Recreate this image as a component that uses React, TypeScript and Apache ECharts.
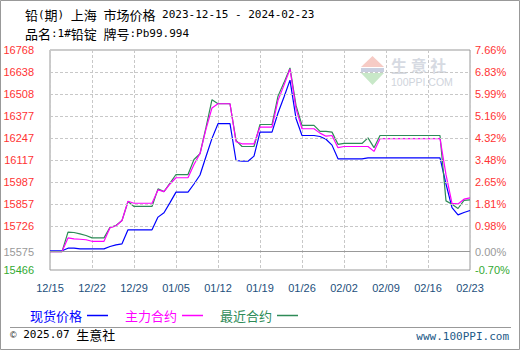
import React, { useEffect, useRef } from 'react';
import * as echarts from 'echarts';

const dates = [
  '12/15','12/16','12/17','12/18','12/19','12/20','12/21','12/22','12/23','12/24',
  '12/25','12/26','12/27','12/28','12/29','12/30','12/31','01/01','01/02','01/03',
  '01/04','01/05','01/06','01/07','01/08','01/09','01/10','01/11','01/12','01/13',
  '01/14','01/15','01/16','01/17','01/18','01/19','01/20','01/21','01/22','01/23',
  '01/24','01/25','01/26','01/27','01/28','01/29','01/30','01/31','02/01','02/02',
  '02/03','02/04','02/05','02/06','02/07','02/08','02/09','02/10','02/11','02/12',
  '02/13','02/14','02/15','02/16','02/17','02/18','02/19','02/20','02/21','02/22',
  '02/23',
];

const spotPrice = [
  15580,15580,15580,15595,15595,15591,15591,15591,15591,15591,
  15605,15615,15621,15704,15704,15704,15704,15704,15779,15805,
  15865,15927,15927,15927,15975,16028,16138,16245,16332,16332,
  16332,16114,16110,16110,16140,16282,16282,16282,16395,16490,
  16590,16363,16262,16262,16262,16256,16240,16205,16124,16124,
  16124,16124,16124,16130,16130,16130,16130,16130,16130,16130,
  16130,16130,16130,16130,16130,16130,15975,15835,15792,15806,
  15818,
];

const mainContract = [
  15575,15575,15575,15656,15650,15648,15645,15636,15636,15636,
  15716,15727,15759,15873,15861,15861,15861,15861,15940,15930,
  15975,16012,16012,16012,16090,16155,16300,16425,16450,16450,
  16450,16225,16213,16213,16213,16312,16312,16312,16470,16560,
  16655,16421,16302,16302,16302,16276,16258,16262,16190,16197,
  16197,16197,16197,16197,16168,16243,16243,16243,16243,16243,
  16243,16243,16243,16243,16243,16243,16030,15860,15857,15885,
  15893,
];

const nearestContract = [
  15575,15575,15575,15690,15688,15680,15670,15656,15656,15656,
  15718,15729,15759,15871,15842,15842,15842,15842,15946,15930,
  15980,16031,16031,16031,16120,16154,16310,16474,16450,16450,
  16450,16233,16197,16197,16197,16327,16327,16327,16495,16575,
  16662,16440,16322,16322,16322,16286,16286,16282,16210,16215,
  16215,16215,16215,16248,16190,16262,16262,16262,16262,16262,
  16262,16262,16262,16262,16262,16262,15875,15855,15830,15878,
  15881,
];

const yMin = 15466;
const yMax = 16768;
const basePrice = 15575;
const tickValues = [15466, 15575, 15726.4, 15856.6, 15986.8, 16117, 16247.2, 16377.4, 16507.6, 16637.8, 16768];
const priceLabels = ['15466','15575','15726','15857','15987','16117','16247','16377','16508','16638','16768'];
const percentLabels = ['-0.70%','0.00%','0.98%','1.81%','2.65%','3.48%','4.32%','5.16%','5.99%','6.83%','7.66%'];
const gridValues = [15726.4, 15856.6, 15986.8, 16117, 16247.2, 16377.4, 16507.6, 16637.8];

const seriesNames = ['现货价格', '主力合约', '最近合约'];
const seriesColors = ['#0000ff', '#ff00ff', '#2e8b57'];

const MONO = "'DejaVu Sans Mono', monospace";
const CJK = "'Noto Sans CJK SC', sans-serif";
const SANS = "'Liberation Sans', 'Noto Sans CJK SC', sans-serif";
const TITLE_COLOR = '#1d5a88';

function nearestIndex(v: number) {
  let best = 0;
  for (let i = 1; i < tickValues.length; i++) {
    if (Math.abs(tickValues[i] - v) < Math.abs(tickValues[best] - v)) best = i;
  }
  return best;
}

function labelColor(v: number) {
  const i = nearestIndex(v);
  if (i === 0) return '#33aa33';
  if (i === 1) return '#999999';
  return '#ff3333';
}

export default function App() {
  const ref = useRef<HTMLDivElement>(null);

  useEffect(() => {
    document.body.style.margin = '0';
    if (!ref.current) return;
    const chart = echarts.init(ref.current, null, { renderer: 'svg' });

    const richTitle = {
      c: { fontFamily: CJK, fontSize: 13, color: TITLE_COLOR },
      m: { fontFamily: MONO, fontSize: 11, color: TITLE_COLOR },
    };

    chart.setOption({
      animation: false,
      backgroundColor: '#ffffff',
      textStyle: { fontFamily: SANS },
      grid: {
        left: 50, right: 50, top: 50, bottom: 80,
        show: true, borderColor: '#999999', borderWidth: 1, backgroundColor: 'transparent',
      },
      legend: {
        left: 25, top: 304,
        align: 'right',
        icon: 'rect',
        itemWidth: 21, itemHeight: 1.5,
        itemGap: 17,
        textStyle: { fontSize: 13, fontFamily: CJK },
        data: seriesNames.map((n, i) => ({ name: n, textStyle: { color: seriesColors[i] } })),
      },
      xAxis: {
        type: 'category',
        data: dates,
        boundaryGap: false,
        axisLine: { show: false },
        axisTick: { show: false },
        axisLabel: { interval: 6, margin: 12, color: '#1d4f7c', fontSize: 11, fontFamily: SANS },
        splitLine: { show: true, interval: 6, lineStyle: { type: [3, 2], color: '#c8c8c8', width: 1 } },
      },
      yAxis: [
        {
          type: 'value', min: yMin, max: yMax, position: 'left',
          splitLine: { show: false }, axisLine: { show: false }, axisTick: { show: false },
          axisLabel: {
            customValues: tickValues,
            margin: 16, fontSize: 11, fontFamily: SANS,
            formatter: (v: number) => priceLabels[nearestIndex(v)],
            color: (v: any) => labelColor(Number(v)),
          },
        },
        {
          type: 'value', min: yMin, max: yMax, position: 'right',
          splitLine: { show: false }, axisLine: { show: false }, axisTick: { show: false },
          axisLabel: {
            customValues: tickValues,
            margin: 5, fontSize: 11, fontFamily: SANS,
            formatter: (v: number) => percentLabels[nearestIndex(v)],
            color: (v: any) => labelColor(Number(v)),
          },
        },
      ],
      series: [
        {
          name: 'grid', type: 'line', data: spotPrice, z: 1, silent: true,
          showSymbol: false, lineStyle: { opacity: 0, width: 0 },
          tooltip: { show: false },
          markLine: {
            silent: true, symbol: ['none', 'none'], label: { show: false },
            animation: false,
            data: [
              ...gridValues.map((v) => ({ yAxis: v, lineStyle: { type: [3, 2], color: '#c8c8c8', width: 1 } })),
              { yAxis: basePrice, lineStyle: { type: 'solid', color: '#999999', width: 1 } },
            ],
          },
        },
        {
          name: seriesNames[0], type: 'line', data: spotPrice, showSymbol: false, z: 3,
          lineStyle: { color: seriesColors[0], width: 1.2 }, itemStyle: { color: seriesColors[0] },
        },
        {
          name: seriesNames[2], type: 'line', data: nearestContract, showSymbol: false, z: 3,
          lineStyle: { color: seriesColors[2], width: 1.2 }, itemStyle: { color: seriesColors[2] },
        },
        {
          name: seriesNames[1], type: 'line', data: mainContract, showSymbol: false, z: 3,
          lineStyle: { color: seriesColors[1], width: 1.2 }, itemStyle: { color: seriesColors[1] },
        },
      ],
      graphic: [
        { type: 'rect', silent: true, shape: { x: 0.5, y: 0.5, width: 519, height: 349 }, style: { fill: 'none', stroke: '#999999', lineWidth: 1 } },
        {
          type: 'text', left: 25, top: 8,
          style: {
            text: '{c|铅}{m|(}{c|期}{m|) }{c|上海}{m| }{c|市场价格}{m| 2023-12-15 - 2024-02-23}',
            rich: richTitle,
          },
        },
        {
          type: 'text', left: 25, top: 27,
          style: {
            text: '{c|品名}{m|:1#}{c|铅锭}{m| }{c|牌号}{m|:Pb99.994}',
            rich: richTitle,
          },
        },
        { type: 'line', silent: true, shape: { x1: 10, y1: 327.5, x2: 511, y2: 327.5 }, style: { stroke: '#999999', lineWidth: 1 } },
        {
          type: 'text', left: 10, top: 328,
          style: {
            text: '{s|©}{m| 2025.07 }{c|生意社}',
            rich: {
              s: { fontFamily: SANS, fontSize: 9, color: '#aab4c0' },
              m: { fontFamily: MONO, fontSize: 11, color: TITLE_COLOR },
              c: { fontFamily: CJK, fontSize: 13, color: TITLE_COLOR },
            },
          },
        },
        {
          type: 'text', right: 11, top: 331,
          style: { text: 'www.100PPI.com', fontFamily: MONO, fontSize: 11, fill: TITLE_COLOR },
        },
        // watermark
        { type: 'polygon', silent: true, shape: { points: [[372.5, 56], [384, 67], [361, 67]] }, style: { fill: '#f6cbc5' } },
        { type: 'rect', silent: true, shape: { x: 361, y: 68, width: 23, height: 4 }, style: { fill: '#c9cfe0' } },
        { type: 'polygon', silent: true, shape: { points: [[361, 73], [384, 73], [372.5, 85]] }, style: { fill: '#c8e8c8' } },
        {
          type: 'text', silent: true, x: 391, y: 56,
          style: { text: '生 意 社', fontFamily: CJK, fontSize: 16, lineHeight: 17, fontWeight: 'bold', fill: '#d6dae2', verticalAlign: 'top' },
        },
        {
          type: 'text', silent: true, x: 391, y: 76,
          style: { text: '100PPI.COM', fontFamily: SANS, fontSize: 10.5, lineHeight: 11, fill: '#cfd4dc', verticalAlign: 'top' },
        },
      ],
    });

    return () => chart.dispose();
  }, []);

  return <div ref={ref} style={{ width: 520, height: 350 }} />;
}
